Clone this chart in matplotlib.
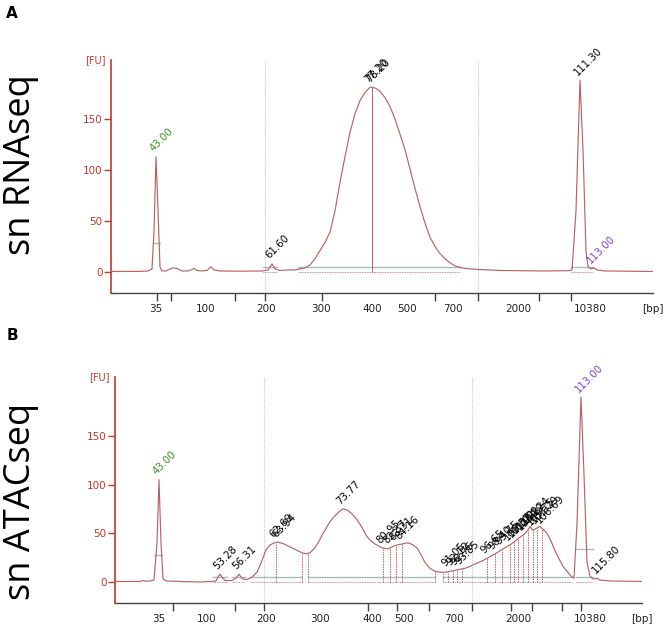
import numpy as np
import matplotlib
matplotlib.use('Agg')
import matplotlib.pyplot as plt

# migration position (screen units along the gel axis) and fluorescence [FU]
rna_pos = [111, 140, 148, 152, 154, 156, 158, 160, 162, 166, 170, 173, 177, 182, 188, 191, 194,
           197, 202, 207, 211, 214, 220, 240, 262, 268, 272, 275, 280, 288, 295, 300, 305, 310,
           315, 320, 325, 330, 335, 340, 345, 350, 355, 360, 365, 370, 372, 376, 380, 385, 390,
           395, 400, 405, 410, 415, 420, 425, 430, 435, 440, 445, 450, 455, 460, 465, 478, 500,
           540, 568, 572, 576, 580, 583, 586, 588, 591, 594, 597, 605, 653]
rna_fu = [0.5, 0.6, 1, 3, 40, 113, 60, 5, 1, 1, 3, 4, 3.5, 1, 1, 2, 3.5,
          1.5, 1, 1.5, 5, 2, 1, 0.8, 1, 2, 8, 3, 1.5, 2, 2, 3, 4, 7,
          13, 21, 29, 39, 60, 88, 113, 137, 155, 168, 176, 181, 181, 180, 177, 171, 162,
          150, 135, 120, 101, 82, 64, 48, 34, 25, 18, 13, 9, 6, 4.5, 3.5, 2.5, 1.5,
          1, 1.2, 2, 60, 188, 120, 20, 5, 3, 4, 2, 1, 0.5]

atac_pos = [115, 140, 143, 146, 150, 154, 157, 159, 161, 163, 166, 175, 185, 200, 210, 216, 218,
            220, 222, 225, 232, 236, 239, 241, 244, 248, 252, 257, 262, 266, 270, 274, 278, 284,
            290, 296, 302, 306, 310, 314, 318, 322, 326, 330, 335, 340, 343, 347, 352, 357, 362,
            366, 370, 375, 382, 388, 392, 397, 402, 406, 409, 413, 417, 421, 425, 430, 435, 440,
            445, 450, 455, 460, 465, 470, 476, 483, 490, 497, 503, 510, 515, 520, 524, 527, 530,
            533, 536, 540, 543, 547, 551, 555, 559, 563, 567, 571, 574, 577, 581, 584, 587, 590,
            593, 597, 600, 610, 642]
atac_fu = [0.5, 0.5, 1.5, 0.8, 1, 2, 40, 105, 40, 3, 1, 0.8, 0.3, 0, 0.5, 1, 5,
           8, 5, 1.5, 1.5, 4, 8, 5, 2.5, 3, 5, 10, 22, 33, 38, 40, 41, 39,
           36, 33, 30, 29, 30, 34, 40, 48, 55, 62, 68, 73, 75, 74, 70, 64, 56,
           48, 43, 39, 35, 34, 36, 38, 39, 40, 40, 38, 35, 28, 20, 14, 11, 10,
           10, 11, 12, 13, 14, 16, 19, 22, 26, 30, 34, 38, 42, 46, 49, 52, 57,
           53, 55, 57, 54, 50, 42, 32, 24, 16, 11, 6, 4, 60, 190, 110, 20, 6,
           3, 4, 2, 1, 0.5]

# peak annotations
rna_peak_labels = ['43.00', '61.60', '77.20', '78.20', '111.30', '113.00']
rna_peak_pos = [156, 272, 371, 373, 580, 593]
rna_peak_colors = ['#3f8f1f', 'k', 'k', 'k', 'k', '#7b3fe0']

atac_peak_labels = ['43.00', '53.28', '56.31', '62.69', '63.94', '73.77', '80.95', '82.37',
                    '83.31', '84.16', '91.05', '92.12', '92.75', '93.85', '96.65', '98.40',
                    '99.75', '100.57', '101.02', '102.09', '103.29', '104.24', '105.15',
                    '105.29', '106.69', '113.00', '115.80']
atac_peak_pos = [159, 220, 239, 276, 279, 343, 383, 390, 396, 402, 448, 453, 457, 462, 487,
                 495, 502, 510, 514, 518, 523, 528, 533, 537, 542, 581, 598]
atac_peak_colors = ['#3f8f1f'] + ['k'] * 24 + ['#7b3fe0', 'k']

# peak drop lines and region boundaries
rna_drops = [372]
atac_drops = [276, 302, 308, 383, 390, 396, 402, 435, 443, 448, 453, 457, 462, 487, 495, 502,
              510, 514, 518, 523, 528, 533, 537, 542]

# integration regions (baseline marks)
rna_regions = [(263, 277), (298, 460), (571, 593)]
atac_regions = [(213, 227), (232, 245), (250, 302), (308, 435), (443, 572), (576, 593)]
rna_marker = [(153, 160, 28)]
atac_marker = [(154, 162, 28), (575, 593, 34)]

# size axis
size_labels = ['35', '100', '200', '300', '400', '500', '700', '2000', '10380']
rna_label_pos = [156, 206, 266, 321, 372, 407, 453, 518, 590]
rna_ticks = [157, 171, 206, 235, 265, 322, 372, 407, 435, 453, 478, 518, 539, 571, 590]
atac_label_pos = [159, 207, 266, 320, 372, 404, 454, 518, 590]
atac_ticks = [159, 173, 207, 235, 264, 320, 368, 397, 429, 454, 472, 511, 532, 562, 581]
rna_guides = [265, 478]
atac_guides = [264, 472]

TRACE = '#b86464'
RED = '#c0392b'
MARK = '#a7bcbc'


def draw_panel(ax, pos, fu, xlim, ylim, labels, lpos, lcols, drops, regions, markers,
               ticks, tick_label_pos, guides, drop_style):
    ax.set_xlim(*xlim)
    ax.set_ylim(*ylim)
    for g in guides:
        ax.axvline(g, color='#c4cad6', lw=0.8, ls=(0, (1, 1)), zorder=1)
    for a, b in regions:
        ax.plot([a, b], [5, 5], color=MARK, lw=1.0, zorder=2)
        ax.plot([a, b], [0, 0], color=TRACE, lw=0.6, ls=(0, (1, 1)), zorder=2)
    for a, b, h in markers:
        ax.plot([a, b], [h, h], color=MARK, lw=1.0, zorder=2)
    for d in drops:
        ax.plot([d, d], [0, np.interp(d, pos, fu)], color=TRACE, lw=0.7, ls=drop_style,
                zorder=2)
    ax.plot(pos, fu, color=TRACE, lw=0.85, zorder=3)
    for lab, x, c in zip(labels, lpos, lcols):
        y = np.interp(x, pos, fu)
        ax.text(x - 1, y + 3, lab, rotation=45, rotation_mode='anchor', ha='left', va='bottom',
                fontsize=7.3, color=c, zorder=4)

    for s in ['top', 'right']:
        ax.spines[s].set_visible(False)
    ax.spines['left'].set_color(RED)
    ax.spines['left'].set_linewidth(1.2)
    ax.spines['bottom'].set_color('#444444')
    ax.spines['bottom'].set_linewidth(1.0)
    ax.set_yticks([0, 50, 100, 150])
    ax.tick_params(axis='y', colors=RED, labelsize=7.5, length=5, width=1, pad=1)
    ax.set_xticks(tick_label_pos, size_labels)
    ax.set_xticks(ticks, minor=True)
    ax.tick_params(axis='x', which='major', length=0, pad=8, labelsize=7.5, labelcolor='#222222')
    ax.tick_params(axis='x', which='minor', length=6, width=1, color='#444444')
    ax.text(-0.01, 1.0, '[FU]', transform=ax.transAxes, ha='right', va='center',
            fontsize=7, color=RED)
    ax.text(1.0, -0.07, '[bp]', transform=ax.transAxes, ha='center', va='center',
            fontsize=7.5, color='#222222')


fig = plt.figure(figsize=(6.64, 6.25), dpi=100)

ax1 = fig.add_axes([111 / 664, 1 - 293 / 625, 542 / 664, 233 / 625])
draw_panel(ax1, rna_pos, rna_fu, (111, 653), (-20.6, 207.8), rna_peak_labels, rna_peak_pos,
           rna_peak_colors, rna_drops, rna_regions, rna_marker, rna_ticks, rna_label_pos,
           rna_guides, '-')

ax2 = fig.add_axes([115 / 664, 1 - 603 / 625, 527 / 664, 226 / 625])
draw_panel(ax2, atac_pos, atac_fu, (115, 642), (-21.6, 210.5), atac_peak_labels, atac_peak_pos,
           atac_peak_colors, atac_drops, atac_regions, atac_marker, atac_ticks, atac_label_pos,
           atac_guides, (0, (1.5, 1)))

fig.text(12 / 664, 1 - 13 / 625, 'A', fontsize=11, fontweight='bold', ha='center', va='center')
fig.text(12 / 664, 1 - 335 / 625, 'B', fontsize=11, fontweight='bold', ha='center', va='center')
fig.text(21 / 664, 1 - 165 / 625, 'sn RNAseq', rotation=90, fontsize=26, family='Open Sans',
         ha='center', va='center')
fig.text(21 / 664, 1 - 501 / 625, 'sn ATACseq', rotation=90, fontsize=26, family='Open Sans',
         ha='center', va='center')

fig.savefig('out.png', dpi=100)
